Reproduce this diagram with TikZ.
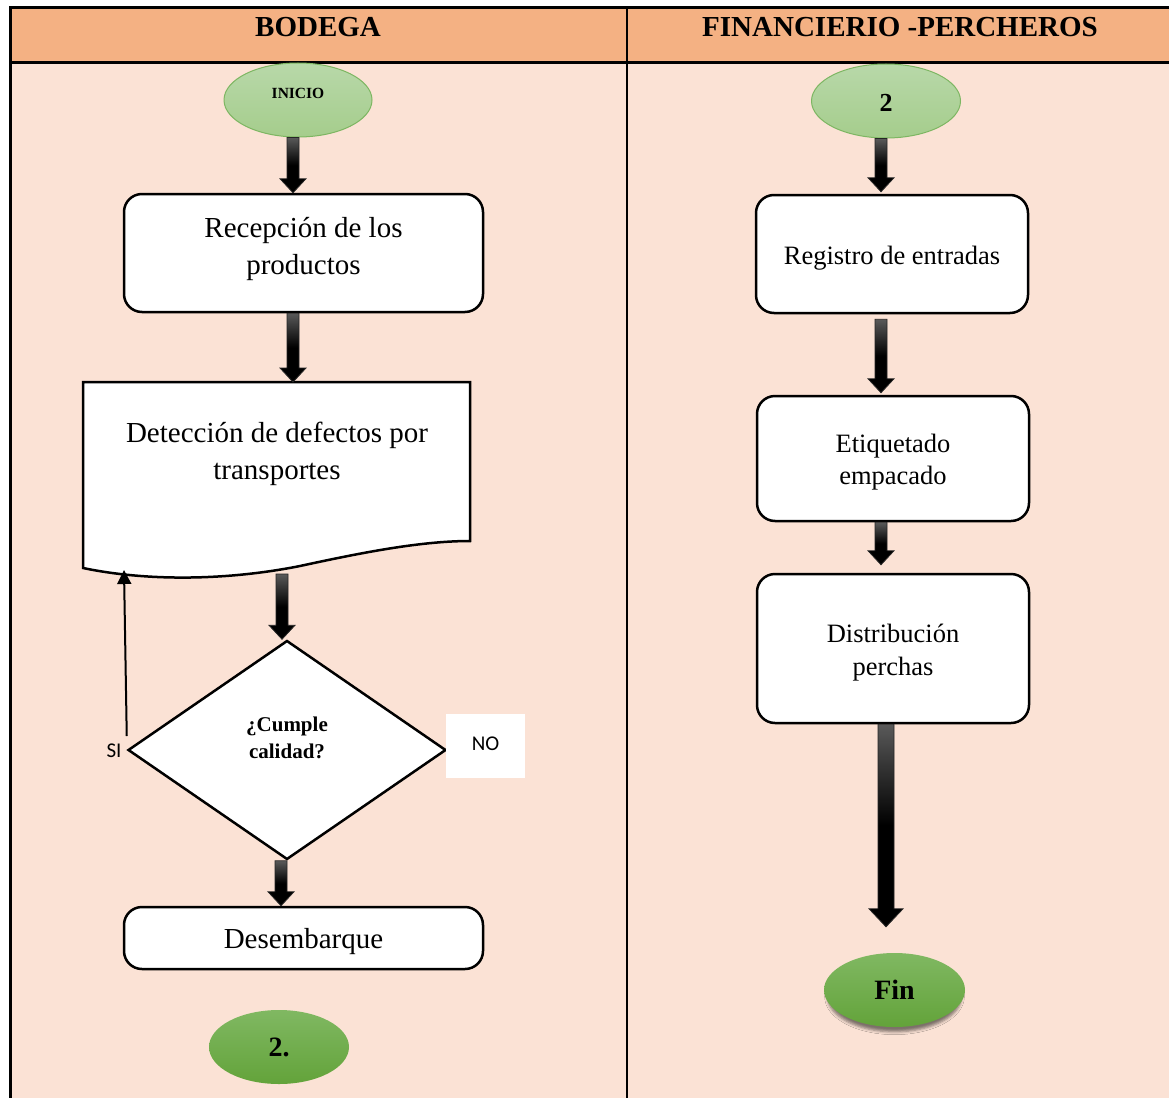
\documentclass[tikz,border=0pt]{standalone}
\usepackage{fontspec}
\setmainfont{Liberation Serif}
\newfontfamily\calibri{Carlito}
\usetikzlibrary{shapes.geometric,shadows.blur,calc,arrows.meta}
\definecolor{hdr}{HTML}{F4B183}
\definecolor{bodyc}{HTML}{FBE2D5}
\definecolor{lgtop}{HTML}{B8D8A9}
\definecolor{lgbot}{HTML}{A5CD8C}
\definecolor{gborder}{HTML}{7DB662}
\definecolor{dgtop}{HTML}{80B862}
\definecolor{dgbot}{HTML}{63A33A}
\newcommand\barrow[5]{%
  \path[blockarrow] let \p1=#1, \p2=#2 in
    (\x1-#3,\y1) -- (\x1+#3,\y1) -- (\x1+#3,\y2+#5) -- (\x1+#4,\y2+#5)
    -- (\x1,\y2) -- (\x1-#4,\y2+#5) -- (\x1-#3,\y2+#5) -- cycle;}
\newcommand\shifted[2]{\raisebox{#1}[\height][\depth]{\begin{tabular}{@{}c@{}}#2\end{tabular}}}
\newcommand\shiftone[2]{\raisebox{#1}[\height][\depth]{#2}}
\tikzset{
  procbox/.style={draw=black, line width=2.5pt, rounded corners=18pt, fill=white,
    align=center, inner sep=0pt, font=\fontsize{29}{37}\selectfont},
  rprocbox/.style={procbox, font=\fontsize{26.5}{32}\selectfont},
  lightell/.style={ellipse, draw=gborder, line width=1pt, top color=lgtop,
    bottom color=lgbot, inner sep=0pt},
  darkell/.style={ellipse, top color=dgtop, bottom color=dgbot, inner sep=0pt},
  blockarrow/.style={draw=black!85, line width=0.8pt, top color=black!65,
    bottom color=black, middle color=black},
  hdrtext/.style={font=\fontsize{29}{34}\selectfont\bfseries},
}
\begin{document}
\begin{tikzpicture}[x=1pt,y=-1pt]
\useasboundingbox (0,0) rectangle (1169,1097);
% table
\fill[bodyc] (10,63) rectangle (1175,1100);
\fill[hdr] (10,8) rectangle (1175,63);
\draw[line width=3pt] (1175,8) -- (10,8) -- (10,1100);
\draw[line width=3pt] (10,63) -- (1175,63);
\draw[line width=2pt] (627,8) -- (627,1100);
\node[hdrtext] (h1) at (318,27) {BODEGA};
\node[hdrtext] (h2) at (900,27) {FINANCIERIO -PERCHEROS};

% left column
\node[lightell, minimum width=148pt, minimum height=74pt,
  font=\fontsize{15.5}{18}\selectfont\bfseries] (inicio) at (298,100) {\shiftone{7pt}{INICIO}};
\node[procbox, minimum width=359pt, minimum height=118pt] (rec) at (303.5,253)
  {\shifted{4pt}{Recepción de los\\productos}};
% document shape
\draw[line width=2.5pt, fill=white] (83,382) -- (470,382) -- (470,541)
  .. controls (420,541) and (360,553) .. (300,566)
  .. controls (230,580) and (150,582) .. (83,568) -- cycle;
\node[align=center, font=\fontsize{29}{37}\selectfont, inner sep=0pt,
  minimum width=387pt] (det) at (277,454) {Detección de defectos por\\transportes};
\coordinate (detn) at (276.5,382);
\coordinate (detb) at (282,574);
\coordinate (detsi) at (124,570);
\node[diamond, draw=black, line width=2.5pt, fill=white, minimum width=318pt,
  minimum height=219pt, inner sep=0pt, align=center,
  font=\fontsize{21}{27}\selectfont\bfseries] (dec) at (287,750)
  {\shifted{10pt}{¿Cumple\\calidad?}};
\node[procbox, minimum width=359pt, minimum height=62pt] (des) at (303.5,938)
  {\shiftone{-4pt}{Desembarque}};
\node[darkell, minimum width=140pt, minimum height=74pt,
  font=\fontsize{28}{32}\selectfont\bfseries] (dos) at (279,1047) {2.};
\node[font=\calibri\fontsize{21}{24}\selectfont, inner sep=0pt] (si) at (114,751) {SI};
\node[fill=white, minimum width=79pt, minimum height=64pt, inner sep=0pt,
  font=\calibri\fontsize{21}{24}\selectfont] (no) at (485.5,746) {\shiftone{2pt}{NO}};

% right column
\node[lightell, minimum width=149pt, minimum height=74pt,
  font=\fontsize{26}{30}\selectfont\bfseries] (two) at (886,101) {\shiftone{-2pt}{2}};
\node[rprocbox, minimum width=272pt, minimum height=118pt] (reg) at (892,254)
  {\shiftone{-4pt}{Registro de entradas}};
\node[rprocbox, minimum width=272pt, minimum height=125pt] (eti) at (893,458.5)
  {\shifted{-4pt}{Etiquetado\\empacado}};
\node[rprocbox, minimum width=272pt, minimum height=149pt] (dis) at (893,648.5)
  {\shifted{-4pt}{Distribución\\[1pt]perchas}};
\node[darkell, minimum width=141pt, minimum height=74pt,
  blur shadow={shadow xshift=0pt, shadow yshift=-7pt, shadow blur radius=3pt,
    shadow scale=0.95, shadow opacity=50},
  font=\fontsize{28}{32}\selectfont\bfseries] (fin) at (894.5,990) {Fin};

% connectors
\barrow{([xshift=-5pt]inicio.south)}{(rec.north)}{6pt}{13pt}{14pt}
\barrow{([xshift=-10.5pt]rec.south)}{(detn)}{6pt}{13pt}{14pt}
\barrow{(detb)}{(dec.north)}{6pt}{13pt}{14pt}
\barrow{([xshift=-6pt]dec.south)}{(des.north)}{6pt}{13pt}{14pt}
\barrow{([xshift=-5pt]two.south)}{([yshift=2pt]reg.north)}{6pt}{13pt}{14pt}
\barrow{([xshift=-11pt,yshift=-5pt]reg.south)}{([yshift=2pt]eti.north)}{6pt}{13pt}{14pt}
\barrow{([xshift=-12pt]eti.south)}{([yshift=8pt]dis.north)}{6pt}{13pt}{14pt}
\barrow{([xshift=-7pt]dis.south)}{([yshift=26pt]fin.north)}{8pt}{17pt}{18pt}
\draw[line width=2pt, -{Triangle[width=14pt,length=14pt]}]
  ([yshift=14pt]dec.west) -- (detsi);
\end{tikzpicture}
\end{document}
